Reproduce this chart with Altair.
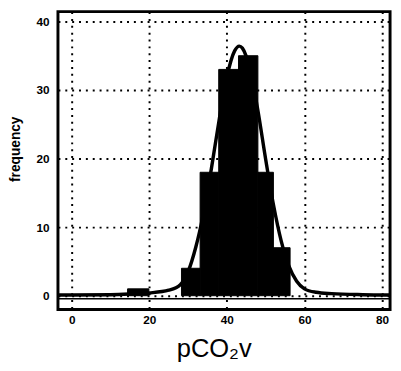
import altair as alt
import pandas as pd

# Histogram bins
bin_start = [14.4, 28.3, 33.1, 37.9, 43.0, 48.0, 52.0]
bin_end = [19.9, 33.1, 37.9, 43.0, 48.0, 52.0, 56.3]
counts = [1, 4, 18, 33, 35, 18, 7]

# Fitted curve points
curve_x = [-3.5, 0, 10, 15, 20, 25, 28, 30, 32, 34, 36, 38, 40, 42, 43.2, 44, 46, 48, 50, 52, 54, 56, 58, 60, 63, 67, 75, 82]
curve_y = [0.1, 0.1, 0.15, 0.25, 0.4, 0.8, 1.6, 3.5, 7.1, 12.1, 18.5, 25.6, 31.9, 35.7, 36.4, 36.1, 32.9, 27.0, 19.9, 13.3, 8.0, 4.3, 2.1, 1.0, 0.5, 0.3, 0.15, 0.1]

x_ticks = [0, 20, 40, 60, 80]
y_ticks = [0, 10, 20, 30, 40]

bars_df = pd.DataFrame({"x0": bin_start, "x1": bin_end, "count": counts})
curve_df = pd.DataFrame({"x": curve_x, "y": curve_y})

xscale = alt.Scale(domain=[-3.54, 82.07], nice=False, zero=False)
yscale = alt.Scale(domain=[-2, 41.43], nice=False, zero=False)

xaxis = alt.Axis(
    values=x_ticks, title="pCO₂v", grid=True, domain=False, ticks=False,
    labelFont="Liberation Sans", labelFontWeight="bold", labelFontSize=12,
    labelColor="black", labelPadding=5,
    gridColor="black", gridDash=[2, 5], gridWidth=2, gridOpacity=1,
    titleFont="Liberation Sans", titleFontSize=26, titleFontWeight="normal",
    titleColor="black", titleX=159, titleY=48, titleBaseline="alphabetic",
    titleAnchor="start", titleAlign="center",
)
yaxis = alt.Axis(
    values=y_ticks, title="frequency", grid=True, domain=False, ticks=False,
    labelFont="Liberation Sans", labelFontWeight="bold", labelFontSize=12,
    labelColor="black", labelPadding=9,
    gridColor="black", gridDash=[2, 5], gridWidth=2, gridOpacity=1,
    titleFont="Liberation Sans", titleFontSize=14, titleFontWeight="bold",
    titleColor="black", titleAngle=270, titleX=-43, titleY=140,
    titleAlign="center", titleBaseline="middle", titleAnchor="start",
)

bars = alt.Chart(bars_df).mark_rect(
    color="black", stroke="black", strokeWidth=1, clip=True
).encode(
    x=alt.X("x0:Q", scale=xscale, axis=xaxis),
    x2="x1:Q",
    y=alt.Y("count:Q", scale=yscale, axis=yaxis),
    y2=alt.datum(0),
)

base_rule = alt.Chart(pd.DataFrame({"y": [-0.45]})).mark_rule(
    color="black", strokeWidth=1.5
).encode(
    y=alt.Y("y:Q", scale=yscale),
    x=alt.value(0), x2=alt.value(339),
)

curve = alt.Chart(curve_df).mark_line(
    color="black", strokeWidth=3.5, interpolate="monotone", clip=True
).encode(
    x=alt.X("x:Q", scale=xscale),
    y=alt.Y("y:Q", scale=yscale),
)

chart = alt.layer(bars, base_rule, curve).properties(
    width=339, height=304,
    padding={"left": 51, "top": 0, "right": 3, "bottom": 51},
    autosize="none",
    background="white",
).configure_view(
    stroke="black", strokeWidth=3
)

chart.save("out.html", embed_options={"renderer": "svg", "actions": False})
